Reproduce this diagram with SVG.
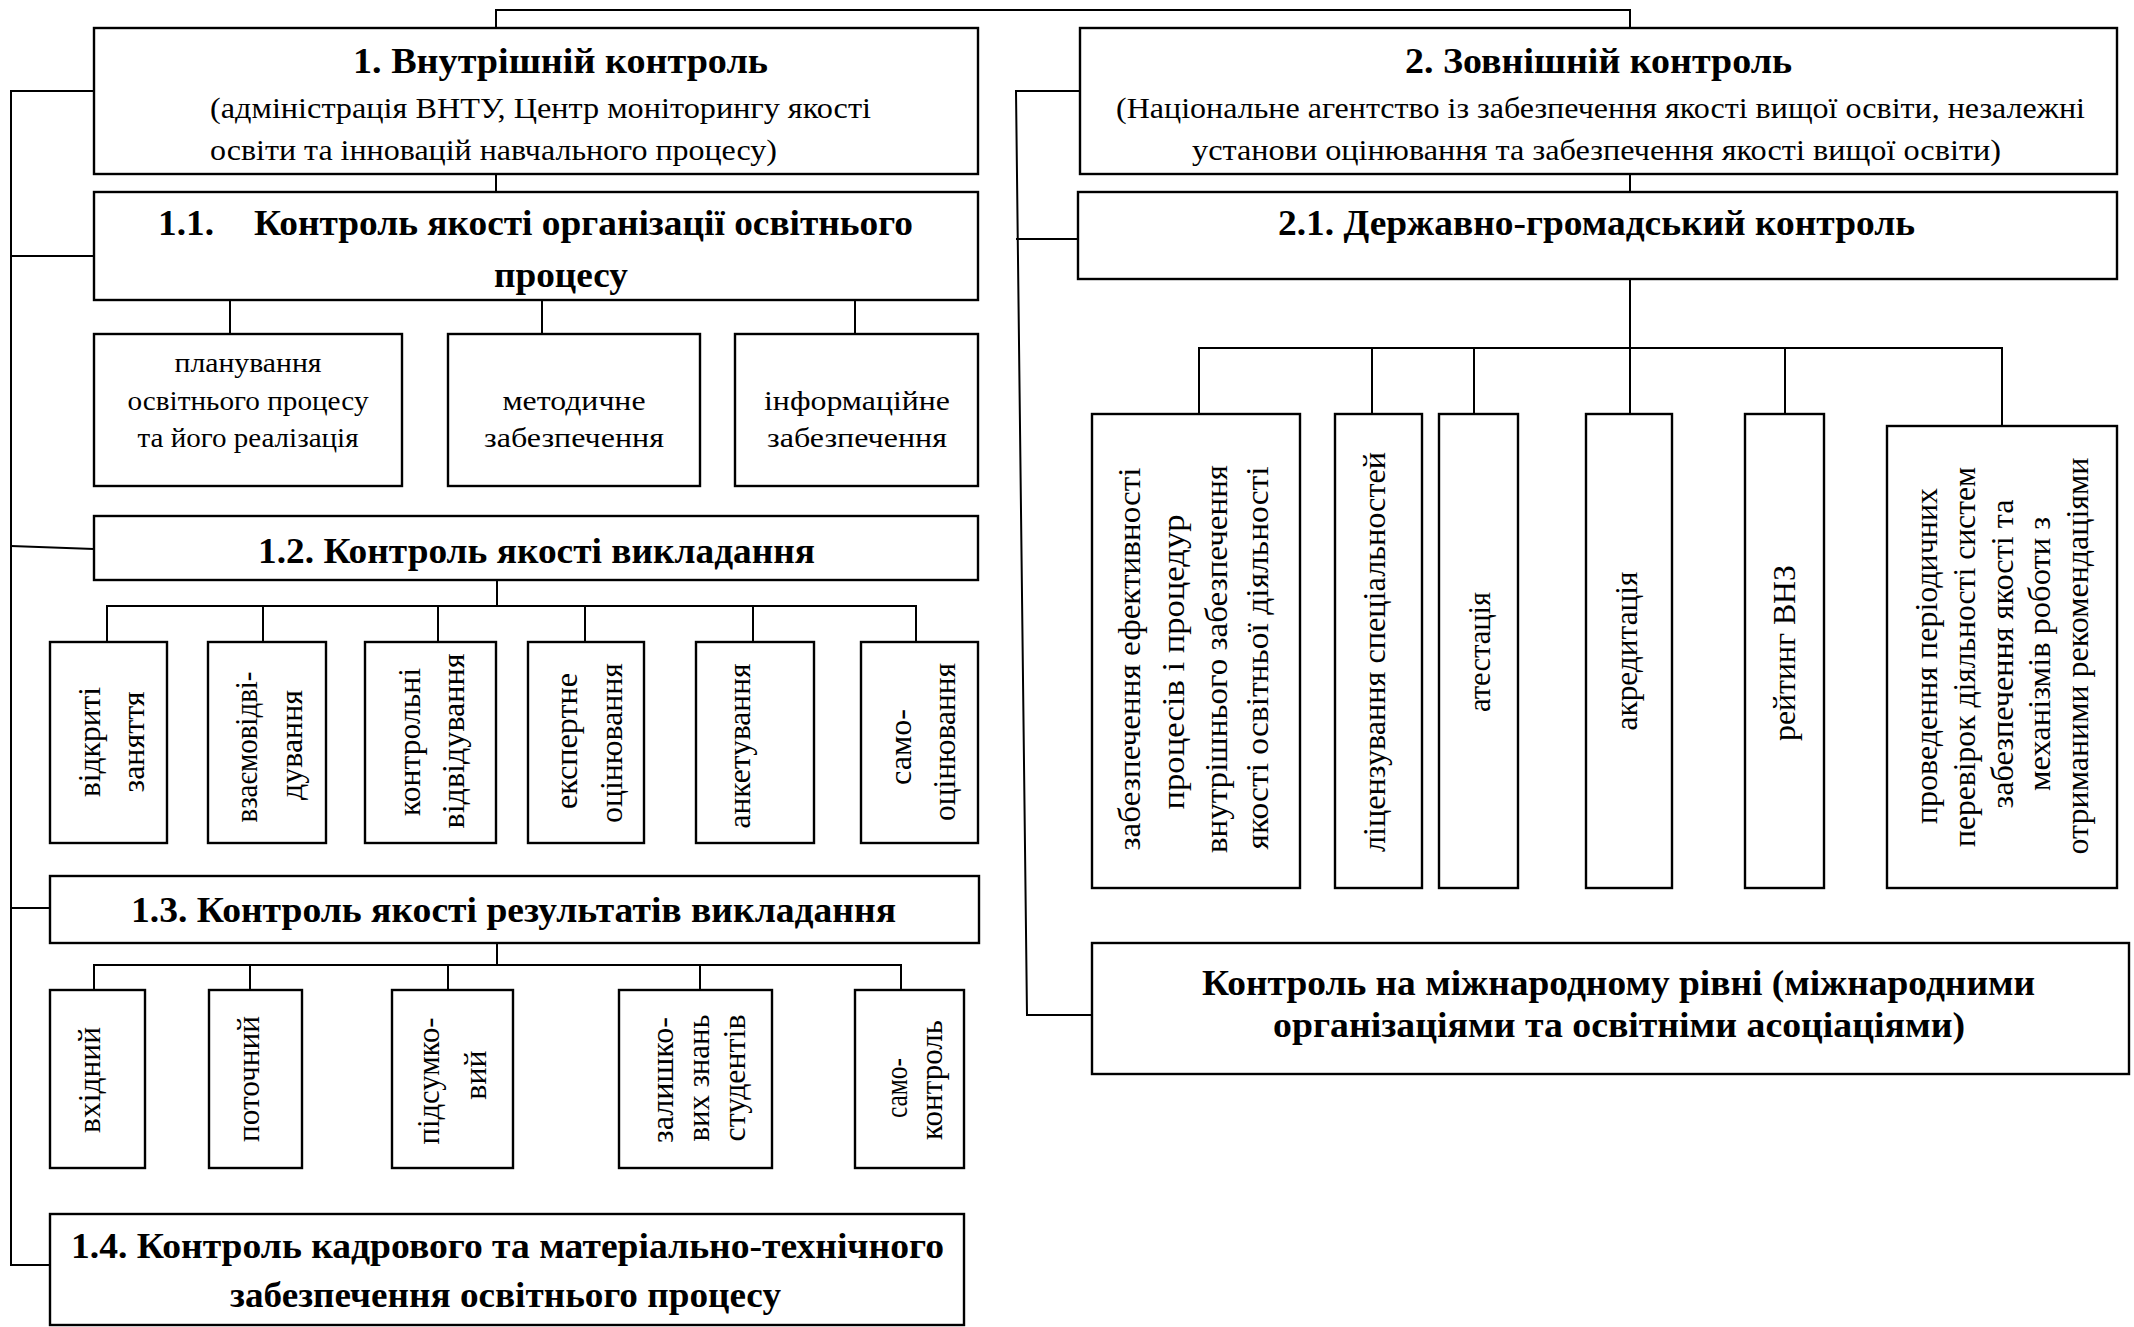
<svg xmlns="http://www.w3.org/2000/svg" width="2134" height="1327" viewBox="0 0 2134 1327">
<style>
.bx{fill:#fff;stroke:#000;stroke-width:2.4}
.ln{fill:none;stroke:#000;stroke-width:2}
text{font-family:"Liberation Serif","Times New Roman",serif;fill:#000}
.t{font-weight:bold;font-size:35px}
.s{font-size:30px}
.m{font-size:28px;text-anchor:middle}
.v{font-size:32px;text-anchor:middle}
</style>
<rect width="2134" height="1327" fill="#fff"/>
<g id="connectors">
<polyline class="ln" points="496,28 496,10 1630,10 1630,28"/>
<line class="ln" x1="496" y1="174" x2="496" y2="192"/>
<line class="ln" x1="1630" y1="174" x2="1630" y2="192"/>
<polyline class="ln" points="94,91 11,91 11,1265 50,1265"/>
<line class="ln" x1="11" y1="256" x2="94" y2="256"/>
<line class="ln" x1="11" y1="546" x2="94" y2="549"/>
<line class="ln" x1="11" y1="908" x2="50" y2="908"/>
<line class="ln" x1="230" y1="300" x2="230" y2="334"/>
<line class="ln" x1="542" y1="300" x2="542" y2="334"/>
<line class="ln" x1="855" y1="300" x2="855" y2="334"/>
<line class="ln" x1="497" y1="580" x2="497" y2="606"/>
<polyline class="ln" points="107,642 107,606 916,606 916,642"/>
<line class="ln" x1="263" y1="606" x2="263" y2="642"/>
<line class="ln" x1="438" y1="606" x2="438" y2="642"/>
<line class="ln" x1="585" y1="606" x2="585" y2="642"/>
<line class="ln" x1="753" y1="606" x2="753" y2="642"/>
<line class="ln" x1="497" y1="943" x2="497" y2="965"/>
<polyline class="ln" points="94,990 94,965 901,965 901,990"/>
<line class="ln" x1="250" y1="965" x2="250" y2="990"/>
<line class="ln" x1="448" y1="965" x2="448" y2="990"/>
<line class="ln" x1="700" y1="965" x2="700" y2="990"/>
<polyline class="ln" points="1080,91 1016,91 1027,1015 1092,1015"/>
<line class="ln" x1="1016" y1="239" x2="1078" y2="239"/>
<line class="ln" x1="1630" y1="279" x2="1630" y2="414"/>
<polyline class="ln" points="1199,414 1199,348 2002,348 2002,426"/>
<line class="ln" x1="1372" y1="348" x2="1372" y2="414"/>
<line class="ln" x1="1474" y1="348" x2="1474" y2="414"/>
<line class="ln" x1="1785" y1="348" x2="1785" y2="414"/>
</g>
<g id="n1">
<rect class="bx" x="94" y="28" width="884" height="146"/>
<text class="t" x="353" y="73" textLength="415" lengthAdjust="spacingAndGlyphs">1.  Внутрішній контроль</text>
<text class="s" x="210" y="118" textLength="661" lengthAdjust="spacingAndGlyphs">(адміністрація ВНТУ, Центр моніторингу якості</text>
<text class="s" x="210" y="160" textLength="567" lengthAdjust="spacingAndGlyphs">освіти та інновацій навчального процесу)</text>
</g>
<g id="n2">
<rect class="bx" x="1080" y="28" width="1037" height="146"/>
<text class="t" x="1405" y="73" textLength="387" lengthAdjust="spacingAndGlyphs">2. Зовнішній контроль</text>
<text class="s" x="1116" y="118" textLength="969" lengthAdjust="spacingAndGlyphs">(Національне агентство із забезпечення якості вищої освіти, незалежні</text>
<text class="s" x="1192" y="160" textLength="809" lengthAdjust="spacingAndGlyphs">установи оцінювання та забезпечення якості вищої освіти)</text>
</g>
<g id="n1-1">
<rect class="bx" x="94" y="192" width="884" height="108"/>
<text class="t" x="158" y="235" textLength="56" lengthAdjust="spacingAndGlyphs">1.1.</text>
<text class="t" x="254" y="235" textLength="659" lengthAdjust="spacingAndGlyphs">Контроль якості організації освітнього</text>
<text class="t" x="494" y="287" textLength="134" lengthAdjust="spacingAndGlyphs">процесу</text>
</g>
<g id="n2-1">
<rect class="bx" x="1078" y="192" width="1039" height="87"/>
<text class="t" x="1278" y="235" textLength="637" lengthAdjust="spacingAndGlyphs">2.1. Державно-громадський контроль</text>
</g>
<g id="n1-1-1">
<rect class="bx" x="94" y="334" width="308" height="152"/>
<text class="m" x="248" y="372" textLength="147" lengthAdjust="spacingAndGlyphs">планування</text>
<text class="m" x="248" y="410" textLength="241" lengthAdjust="spacingAndGlyphs">освітнього процесу</text>
<text class="m" x="248" y="447" textLength="221" lengthAdjust="spacingAndGlyphs">та його реалізація</text>
</g>
<g id="n1-1-2">
<rect class="bx" x="448" y="334" width="252" height="152"/>
<text class="m" x="574" y="410" textLength="143" lengthAdjust="spacingAndGlyphs">методичне</text>
<text class="m" x="574" y="447" textLength="180" lengthAdjust="spacingAndGlyphs">забезпечення</text>
</g>
<g id="n1-1-3">
<rect class="bx" x="735" y="334" width="243" height="152"/>
<text class="m" x="857" y="410" textLength="186" lengthAdjust="spacingAndGlyphs">інформаційне</text>
<text class="m" x="857" y="447" textLength="180" lengthAdjust="spacingAndGlyphs">забезпечення</text>
</g>
<g id="n1-2">
<rect class="bx" x="94" y="516" width="884" height="64"/>
<text class="t" x="258" y="563" textLength="557" lengthAdjust="spacingAndGlyphs">1.2. Контроль якості викладання</text>
</g>
<g id="n1-2-1">
<rect class="bx" x="50" y="642" width="117" height="201"/>
<text class="v" transform="translate(100,742) rotate(-90)" textLength="110" lengthAdjust="spacingAndGlyphs">відкриті</text>
<text class="v" transform="translate(144,742) rotate(-90)" textLength="101" lengthAdjust="spacingAndGlyphs">заняття</text>
</g>
<g id="n1-2-2">
<rect class="bx" x="208" y="642" width="118" height="201"/>
<text class="v" transform="translate(257,747) rotate(-90)" textLength="151" lengthAdjust="spacingAndGlyphs">взаємовідві-</text>
<text class="v" transform="translate(302,745) rotate(-90)" textLength="110" lengthAdjust="spacingAndGlyphs">дування</text>
</g>
<g id="n1-2-3">
<rect class="bx" x="365" y="642" width="131" height="201"/>
<text class="v" transform="translate(420,742) rotate(-90)" textLength="148" lengthAdjust="spacingAndGlyphs">контрольні</text>
<text class="v" transform="translate(464,741) rotate(-90)" textLength="175" lengthAdjust="spacingAndGlyphs">відвідування</text>
</g>
<g id="n1-2-4">
<rect class="bx" x="528" y="642" width="116" height="201"/>
<text class="v" transform="translate(577,741) rotate(-90)" textLength="136" lengthAdjust="spacingAndGlyphs">експертне</text>
<text class="v" transform="translate(622,743) rotate(-90)" textLength="160" lengthAdjust="spacingAndGlyphs">оцінювання</text>
</g>
<g id="n1-2-5">
<rect class="bx" x="696" y="642" width="118" height="201"/>
<text class="v" transform="translate(750,746) rotate(-90)" textLength="165" lengthAdjust="spacingAndGlyphs">анкетування</text>
</g>
<g id="n1-2-6">
<rect class="bx" x="861" y="642" width="117" height="201"/>
<text class="v" transform="translate(911,747) rotate(-90)" textLength="76" lengthAdjust="spacingAndGlyphs">само-</text>
<text class="v" transform="translate(955,742) rotate(-90)" textLength="158" lengthAdjust="spacingAndGlyphs">оцінювання</text>
</g>
<g id="n1-3">
<rect class="bx" x="50" y="876" width="929" height="67"/>
<text class="t" x="131" y="922" textLength="765" lengthAdjust="spacingAndGlyphs">1.3. Контроль якості результатів викладання</text>
</g>
<g id="n1-3-1">
<rect class="bx" x="50" y="990" width="95" height="178"/>
<text class="v" transform="translate(100,1080) rotate(-90)" textLength="106" lengthAdjust="spacingAndGlyphs">вхідний</text>
</g>
<g id="n1-3-2">
<rect class="bx" x="209" y="990" width="93" height="178"/>
<text class="v" transform="translate(259,1079) rotate(-90)" textLength="126" lengthAdjust="spacingAndGlyphs">поточний</text>
</g>
<g id="n1-3-3">
<rect class="bx" x="392" y="990" width="121" height="178"/>
<text class="v" transform="translate(439,1081) rotate(-90)" textLength="127" lengthAdjust="spacingAndGlyphs">підсумко-</text>
<text class="v" transform="translate(486,1075) rotate(-90)">вий</text>
</g>
<g id="n1-3-4">
<rect class="bx" x="619" y="990" width="153" height="178"/>
<text class="v" transform="translate(673,1080) rotate(-90)" textLength="126" lengthAdjust="spacingAndGlyphs">залишко-</text>
<text class="v" transform="translate(709,1078) rotate(-90)" textLength="127" lengthAdjust="spacingAndGlyphs">вих знань</text>
<text class="v" transform="translate(745,1078) rotate(-90)" textLength="127" lengthAdjust="spacingAndGlyphs">студентів</text>
</g>
<g id="n1-3-5">
<rect class="bx" x="855" y="990" width="109" height="178"/>
<text class="v" transform="translate(907,1088) rotate(-90)" textLength="60" lengthAdjust="spacingAndGlyphs">само-</text>
<text class="v" transform="translate(942,1080) rotate(-90)" textLength="120" lengthAdjust="spacingAndGlyphs">контроль</text>
</g>
<g id="n1-4">
<rect class="bx" x="50" y="1214" width="914" height="111"/>
<text class="t" x="71" y="1258" textLength="873" lengthAdjust="spacingAndGlyphs">1.4. Контроль кадрового та матеріально-технічного</text>
<text class="t" x="230" y="1307" textLength="551" lengthAdjust="spacingAndGlyphs">забезпечення освітнього процесу</text>
</g>
<g id="n2-1-1">
<rect class="bx" x="1092" y="414" width="208" height="474"/>
<text class="v" transform="translate(1140,659) rotate(-90)" textLength="383" lengthAdjust="spacingAndGlyphs">забезпечення ефективності</text>
<text class="v" transform="translate(1184,662) rotate(-90)" textLength="295" lengthAdjust="spacingAndGlyphs">процесів і процедур</text>
<text class="v" transform="translate(1227,659) rotate(-90)" textLength="388" lengthAdjust="spacingAndGlyphs">внутрішнього забезпечення</text>
<text class="v" transform="translate(1268,658) rotate(-90)" textLength="383" lengthAdjust="spacingAndGlyphs">якості освітньої діяльності</text>
</g>
<g id="n2-1-2">
<rect class="bx" x="1335" y="414" width="87" height="474"/>
<text class="v" transform="translate(1385,652) rotate(-90)" textLength="400" lengthAdjust="spacingAndGlyphs">ліцензування спеціальностей</text>
</g>
<g id="n2-1-3">
<rect class="bx" x="1439" y="414" width="79" height="474"/>
<text class="v" transform="translate(1490,652) rotate(-90)" textLength="120" lengthAdjust="spacingAndGlyphs">атестація</text>
</g>
<g id="n2-1-4">
<rect class="bx" x="1586" y="414" width="86" height="474"/>
<text class="v" transform="translate(1637,651) rotate(-90)" textLength="159" lengthAdjust="spacingAndGlyphs">акредитація</text>
</g>
<g id="n2-1-5">
<rect class="bx" x="1745" y="414" width="79" height="474"/>
<text class="v" transform="translate(1795,653) rotate(-90)" textLength="176" lengthAdjust="spacingAndGlyphs">рейтинг ВНЗ</text>
</g>
<g id="n2-1-6">
<rect class="bx" x="1887" y="426" width="230" height="462"/>
<text class="v" transform="translate(1937,656) rotate(-90)" textLength="336" lengthAdjust="spacingAndGlyphs">проведення періодичних</text>
<text class="v" transform="translate(1975,657) rotate(-90)" textLength="380" lengthAdjust="spacingAndGlyphs">перевірок діяльності систем</text>
<text class="v" transform="translate(2013,654) rotate(-90)" textLength="309" lengthAdjust="spacingAndGlyphs">забезпечення якості та</text>
<text class="v" transform="translate(2050,654) rotate(-90)" textLength="274" lengthAdjust="spacingAndGlyphs">механізмів роботи з</text>
<text class="v" transform="translate(2088,656) rotate(-90)" textLength="397" lengthAdjust="spacingAndGlyphs">отриманими рекомендаціями</text>
</g>
<g id="n2-2">
<rect class="bx" x="1092" y="943" width="1037" height="131"/>
<text class="t" x="1202" y="995" textLength="833" lengthAdjust="spacingAndGlyphs">Контроль на міжнародному рівні (міжнародними</text>
<text class="t" x="1273" y="1037" textLength="692" lengthAdjust="spacingAndGlyphs">організаціями та освітніми асоціаціями)</text>
</g>
</svg>
